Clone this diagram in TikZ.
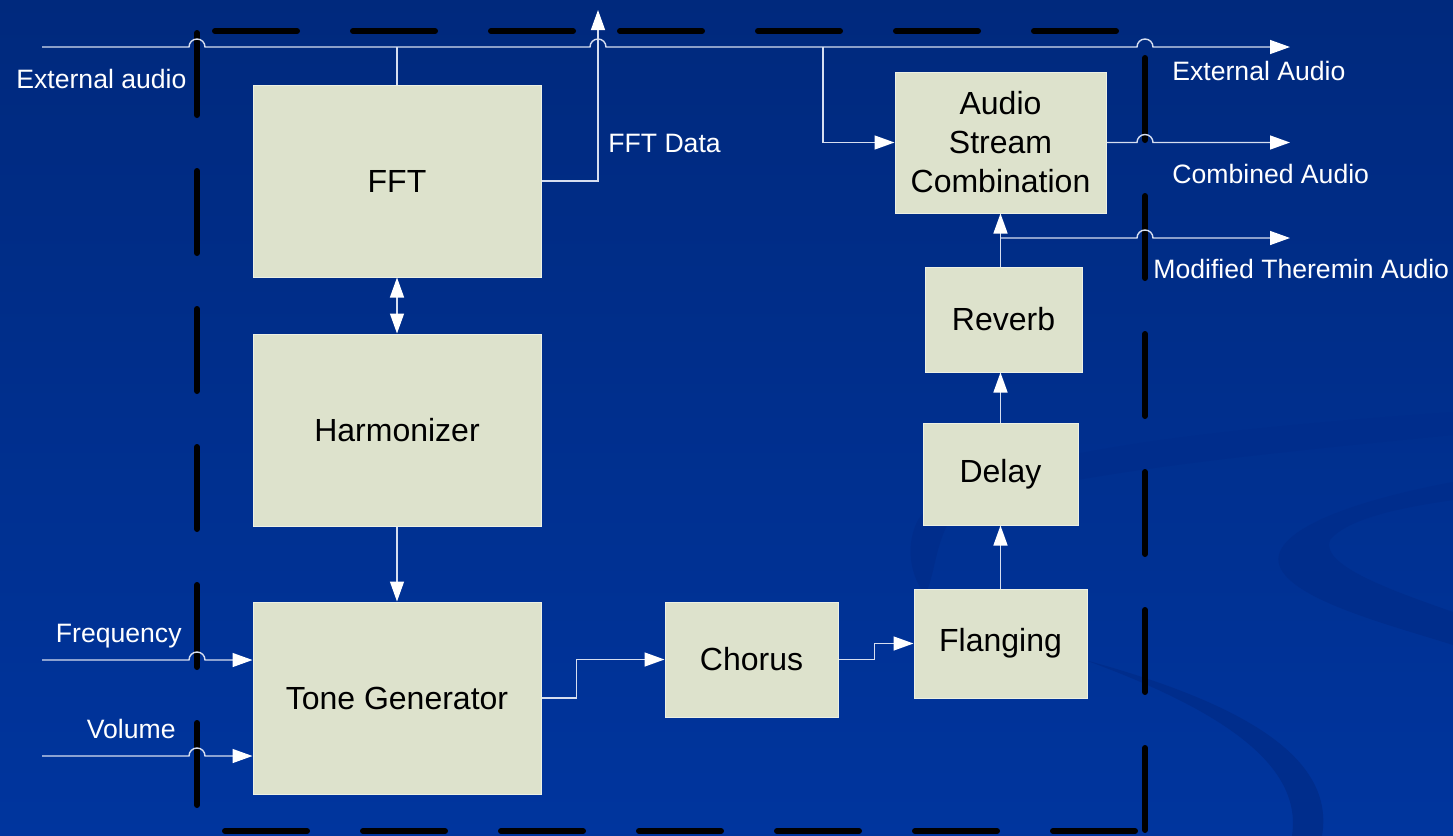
\documentclass[tikz,border=0pt]{standalone}
\usepackage{fontspec}
\setmainfont{Liberation Sans}
\usetikzlibrary{arrows.meta,calc}

\definecolor{bgtop}{RGB}{0,41,125}
\definecolor{bgmid}{RGB}{0,52,152}
\definecolor{bgbot}{RGB}{0,53,158}
\definecolor{swirl}{RGB}{0,45,140}
\definecolor{boxfill}{RGB}{221,226,204}
\definecolor{boxline}{RGB}{236,240,228}
\definecolor{wirecol}{RGB}{214,222,240}

\begin{document}
\begin{tikzpicture}[x=0.5pt,y=-0.5pt,
  block/.style={draw=boxline, line width=0.5pt, fill=boxfill, inner sep=0pt,
    text=black, align=center, font=\fontsize{16}{19.5}\selectfont},
  lbl/.style={text=white, inner sep=0pt, font=\fontsize{13.3}{16}\selectfont},
  wire/.style={draw=wirecol, line width=0.7pt},
  tip/.style={-{Triangle[length=10pt,width=7pt,color=white]}},
  arr/.style={wire, tip},
  dbl/.style={wire, {Triangle[length=10pt,width=7pt,color=white]}-{Triangle[length=10pt,width=7pt,color=white]}},
  frame/.style={draw=black, line width=3pt, line cap=round, dash pattern=on 41pt off 28pt}
]

% background with faint swirls
\useasboundingbox (0,0) rectangle (1453,836);
\shade[top color=bgtop, middle color=bgmid, bottom color=bgbot] (0,0) rectangle (1453,836);
\fill[swirl] (1453,412) .. controls (1200,430) and (960,455) .. (918,520)
  .. controls (905,545) and (910,575) .. (925,595)
  .. controls (935,575) and (935,545) .. (950,520)
  .. controls (990,480) and (1250,455) .. (1453,435) -- cycle;
\fill[swirl] (1453,482) .. controls (1330,505) and (1255,540) .. (1285,575)
  .. controls (1310,605) and (1400,628) .. (1453,645) -- (1453,612)
  .. controls (1390,590) and (1320,565) .. (1330,540)
  .. controls (1350,515) and (1420,505) .. (1453,500) -- cycle;
\fill[swirl] (1085,660) .. controls (1250,705) and (1335,760) .. (1322,836)
  -- (1292,836) .. controls (1302,770) and (1235,715) .. (1085,660) -- cycle;

% dashed enclosure
\coordinate (frTL) at (197,31);
\coordinate (frBR) at (1145,831);
\draw[frame] (frTL |- 0,33) -- (frTL |- 0,806);
\draw[frame] (215,0 |- frTL) -- (576,0 |- frTL);
\draw[frame] (620,0 |- frTL) -- (1117,0 |- frTL);
\draw[frame] (frBR |- 0,58) -- (frBR |- 0,832);
\draw[frame] (225,0 |- frBR) -- (1137,0 |- frBR);

% processing blocks
\node[block, minimum width=144pt, minimum height=96pt] (fft) at (397,181) {FFT};
\node[block, minimum width=144pt, minimum height=96pt] (harm) at (397,430) {Harmonizer};
\node[block, minimum width=144pt, minimum height=96pt] (tone) at (397,698) {Tone Generator};
\node[block, minimum width=86.5pt, minimum height=57.5pt] (chorus) at (751.5,659.5) {Chorus};
\node[block, minimum width=86.5pt, minimum height=54.5pt] (flang) at (1000.5,643.5) {Flanging};
\node[block, minimum width=77.5pt, minimum height=51pt] (delay) at (1000.5,474) {Delay};
\node[block, minimum width=78.5pt, minimum height=52.5pt] (reverb) at (1003.5,319.5) {Reverb};
\node[block, minimum width=105.5pt, minimum height=70.5pt] (asc) at (1000.5,142.5) {Audio\\Stream\\Combination};

% signal end points
\coordinate (extin) at (42,47);
\coordinate (extout) at (1290,47);
\coordinate (fftup) at (598,10);
\coordinate (tap) at (823,47);
\coordinate (combout) at (1290,142.5);
\coordinate (modout) at (1290,238);
\coordinate (freqin) at (42,660);
\coordinate (volin) at (42,756);

% external audio bus with hops
\draw[arr] (extin) -- ([xshift=-4pt]extin -| frTL) arc[start angle=180,end angle=360,radius=8]
  -- ([xshift=-4pt]extin -| fftup) arc[start angle=180,end angle=360,radius=8]
  -- ([xshift=-4pt]extin -| frBR) arc[start angle=180,end angle=360,radius=8]
  -- (extout);
\draw[wire] (fft.north) -- (fft.north |- extin);
\draw[arr] (tap) |- (asc.west);

% FFT data out
\draw[arr] (fft.east) -| (fftup);

% left column
\draw[dbl] (fft.south) -- (harm.north);
\draw[arr] (harm.south) -- (tone.north);
\draw[arr] (freqin) -- ([xshift=-4pt]freqin -| frTL) arc[start angle=180,end angle=360,radius=8] -- (freqin -| tone.west);
\draw[arr] (volin) -- ([xshift=-4pt]volin -| frTL) arc[start angle=180,end angle=360,radius=8] -- (volin -| tone.west);

% effects chain
\draw[arr] (tone.east) -- ++(35,0) |- (chorus.west);
\draw[arr] (chorus.east) -- ++(36,0) |- (flang.west);
\draw[arr] (flang.north) -- (delay.south);
\draw[arr] (delay.north) -- (delay.north |- reverb.south);
\draw[arr] (delay.north |- reverb.north) -- (asc.south);

% outputs
\draw[arr] (asc.east) -- ([xshift=-4pt]asc.east -| frBR) arc[start angle=180,end angle=360,radius=8] -- (combout);
\draw[arr] (modout -| asc.south) -- ([xshift=-4pt]modout -| frBR) arc[start angle=180,end angle=360,radius=8] -- (modout);

% labels
\node[lbl, anchor=base west] (lext) at (16,88) {External audio};
\node[lbl, anchor=base west] (lfft) at (608,152) {FFT Data};
\node[lbl, anchor=base east] (lfreq) at (182,642) {Frequency};
\node[lbl, anchor=base east] (lvol) at (176,738) {Volume};
\node[lbl, anchor=base west] (lextout) at (1172,80) {External Audio};
\node[lbl, anchor=base west] (lcomb) at (1172,183) {Combined Audio};
\node[lbl, anchor=base west] (lmod) at (1153,278) {Modified Theremin Audio};

\end{tikzpicture}
\end{document}
